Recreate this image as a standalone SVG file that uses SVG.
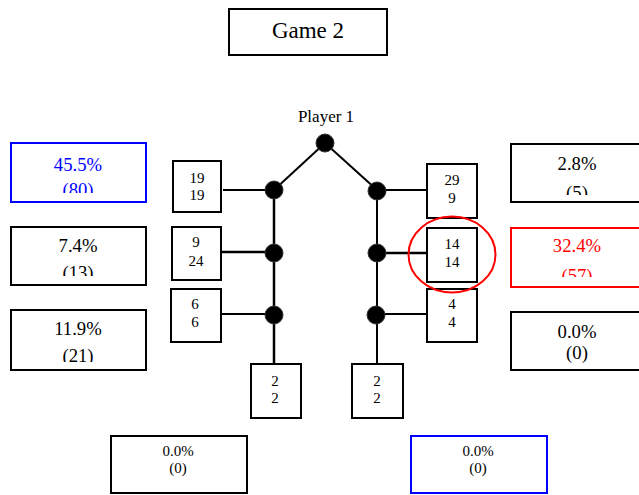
<svg xmlns="http://www.w3.org/2000/svg" width="639" height="495" viewBox="0 0 639 495">
<style>
.t{text-anchor:middle;fill:#000}
.box{fill:#fff;stroke:#000;stroke-width:2}
.blue{stroke:#0000ff}
.red{stroke:#ff0000}
.tb{fill:#0000ff}
.tr{fill:#ff0000}
.big{font-size:18.7px}
.sm{font-size:15px}
.edge{stroke:#000;stroke-width:2;fill:none}
.node{fill:#000;stroke:#333;stroke-width:1}
</style>
<defs>
<clipPath id="c1"><rect x="11" y="143" width="135" height="50"/></clipPath>
<clipPath id="c2"><rect x="11" y="227" width="135" height="49"/></clipPath>
<clipPath id="c3"><rect x="11" y="310" width="135" height="52"/></clipPath>
<clipPath id="c4"><rect x="511" y="144" width="135" height="51"/></clipPath>
<clipPath id="c5"><rect x="511" y="228" width="135" height="49"/></clipPath>
</defs>
<rect width="639" height="495" fill="#fff"/>
<g font-family="Liberation Serif, serif">
<g id="title"><rect class="box" x="229" y="9" width="158" height="46"/><text class="t" x="308" y="38" font-size="23">Game 2</text></g>
<g id="connectors">
<line class="edge" x1="325" y1="143" x2="274" y2="190"/>
<line class="edge" x1="325" y1="143" x2="377" y2="190"/>
<line class="edge" x1="274" y1="190" x2="274" y2="364" style="stroke-width:2.5"/>
<line class="edge" x1="377" y1="190" x2="377" y2="364"/>
<line class="edge" x1="223" y1="190" x2="274" y2="190"/>
<line class="edge" x1="222" y1="252" x2="274" y2="252" style="stroke-width:2.5"/>
<line class="edge" x1="222" y1="314" x2="274" y2="314"/>
<line class="edge" x1="377" y1="190" x2="427" y2="190"/>
<line class="edge" x1="377" y1="253" x2="427" y2="253" style="stroke-width:2.5"/>
<line class="edge" x1="377" y1="314" x2="427" y2="314"/>
</g>
<g id="player1"><text class="t" x="326" y="122" font-size="17">Player 1</text></g>
<g id="n-root"><circle class="node" cx="325" cy="143" r="9"/></g>
<g id="n-l1"><circle class="node" cx="274" cy="190" r="9"/></g>
<g id="n-l2"><circle class="node" cx="274" cy="253" r="9"/></g>
<g id="n-l3"><circle class="node" cx="274" cy="315" r="9"/></g>
<g id="n-r1"><circle class="node" cx="377" cy="191" r="9"/></g>
<g id="n-r2"><circle class="node" cx="377" cy="253" r="9"/></g>
<g id="n-r3"><circle class="node" cx="376" cy="315" r="9"/></g>
<g id="p-l1"><rect class="box" x="173" y="161" width="48" height="51"/><text class="t sm" x="197" y="182.5">19</text><text class="t sm" x="197" y="200">19</text></g>
<g id="p-l2"><rect class="box" x="172" y="227" width="49" height="53"/><text class="t sm" x="196" y="247">9</text><text class="t sm" x="196" y="265.5">24</text></g>
<g id="p-l3"><rect class="box" x="171" y="289" width="50" height="53"/><text class="t sm" x="195" y="309">6</text><text class="t sm" x="195" y="327">6</text></g>
<g id="p-l4"><rect class="box" x="251" y="364" width="50" height="54"/><text class="t sm" x="275" y="385.5">2</text><text class="t sm" x="275" y="403">2</text></g>
<g id="p-r1"><rect class="box" x="427" y="164" width="50" height="54"/><text class="t sm" x="452" y="185">29</text><text class="t sm" x="452" y="203">9</text></g>
<g id="p-r2"><rect class="box" x="427" y="228" width="50" height="54"/><text class="t sm" x="452" y="249">14</text><text class="t sm" x="452" y="267">14</text></g>
<g id="p-r3"><rect class="box" x="427" y="289" width="50" height="53"/><text class="t sm" x="452" y="309">4</text><text class="t sm" x="452" y="327">4</text></g>
<g id="p-r4"><rect class="box" x="352" y="364" width="51" height="54"/><text class="t sm" x="377" y="385.5">2</text><text class="t sm" x="377" y="403">2</text></g>
<g id="highlight"><ellipse cx="452" cy="254.5" rx="43.5" ry="38" fill="none" stroke="#ff0000" stroke-width="2"/></g>
<g id="o-l1"><rect class="box blue" x="11" y="143" width="135" height="59"/><g clip-path="url(#c1)"><text class="t big tb" x="78" y="170.5">45.5%</text><text class="t big tb" x="78" y="196">(80)</text></g></g>
<g id="o-l2"><rect class="box" x="11" y="227" width="135" height="58"/><g clip-path="url(#c2)"><text class="t big" x="78" y="251.5">7.4%</text><text class="t big" x="78" y="278.5">(13)</text></g></g>
<g id="o-l3"><rect class="box" x="11" y="310" width="135" height="60"/><g clip-path="url(#c3)"><text class="t big" x="78" y="335">11.9%</text><text class="t big" x="78" y="362">(21)</text></g></g>
<g id="o-r1"><rect class="box" x="511" y="144" width="135" height="58"/><g clip-path="url(#c4)"><text class="t big" x="577" y="170">2.8%</text><text class="t big" x="577" y="198.5">(5)</text></g></g>
<g id="o-r2"><rect class="box red" x="511" y="228" width="135" height="59"/><g clip-path="url(#c5)"><text class="t big tr" x="577" y="251.5">32.4%</text><text class="t big tr" x="577" y="281.5">(57)</text></g></g>
<g id="o-r3"><rect class="box" x="511" y="312" width="135" height="58"/><text class="t big" x="577" y="338">0.0%</text><text class="t big" x="577" y="359">(0)</text></g>
<g id="o-b1"><rect class="box" x="111" y="436" width="136" height="57"/><text class="t sm" x="178" y="456">0.0%</text><text class="t sm" x="178" y="473">(0)</text></g>
<g id="o-b2"><rect class="box blue" x="411" y="436" width="136" height="57"/><text class="t sm" x="478" y="456">0.0%</text><text class="t sm" x="478" y="473">(0)</text></g>
</g>
</svg>
